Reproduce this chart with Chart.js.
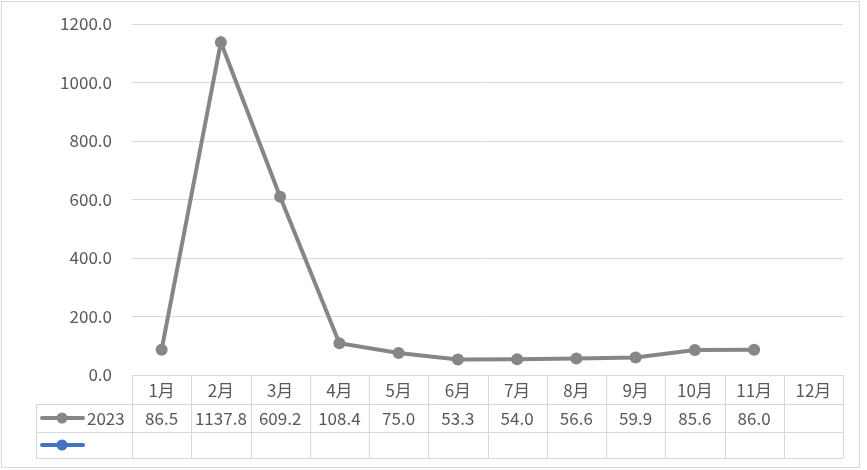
<!DOCTYPE html>
<html>
<head>
<meta charset="utf-8">
<script src="https://cdn.jsdelivr.net/npm/chart.js@4"></script>
<style>
  body { margin: 0; background: #fff; }
  #wrap { width: 867px; height: 470px; position: relative; }
</style>
</head>
<body>
<div id="wrap"><canvas id="myChart"></canvas></div>
<script>
// chart data
const months = ['1月', '2月', '3月', '4月', '5月', '6月', '7月', '8月', '9月', '10月', '11月', '12月'];
const values2023 = [86.5, 1137.8, 609.2, 108.4, 75.0, 53.3, 54.0, 56.6, 59.9, 85.6, 86.0, null];
const seriesName = '2023';
const yTicks = [0, 200, 400, 600, 800, 1000, 1200];

const FONT = '"Noto Sans CJK SC", "Noto Sans", sans-serif';
const FSIZE = 17;
const TEXT = '#595959';
const LINE = '#d9d9d9';

// draws the outer frame and the data table under the plot
const tablePlugin = {
    id: 'dataTable',
    afterDraw(chart) {
        const ctx = chart.ctx;
        const x = chart.scales.x;
        const area = chart.chartArea;
        const colW = (area.right - area.left) / months.length;
        const legendLeft = 36;
        const rowTop = area.bottom;
        const rows = [rowTop, rowTop + 29, rowTop + 57, rowTop + 83];

        ctx.save();
        ctx.strokeStyle = LINE;
        ctx.lineWidth = 1;
        ctx.strokeRect(1.5, 1.5, 858, 466);

        ctx.beginPath();
        // horizontal lines
        ctx.moveTo(area.left, rows[0] + 0.5);
        ctx.lineTo(area.right, rows[0] + 0.5);
        for (let r = 1; r < rows.length; r++) {
            ctx.moveTo(legendLeft, rows[r] + 0.5);
            ctx.lineTo(area.right, rows[r] + 0.5);
        }
        // vertical lines
        for (let i = 0; i <= months.length; i++) {
            const vx = Math.round(area.left + i * colW) + 0.5;
            ctx.moveTo(vx, rows[0]);
            ctx.lineTo(vx, rows[3]);
        }
        ctx.moveTo(legendLeft + 0.5, rows[1]);
        ctx.lineTo(legendLeft + 0.5, rows[3]);
        ctx.stroke();

        // texts
        ctx.fillStyle = TEXT;
        ctx.font = FSIZE + 'px ' + FONT;
        ctx.textAlign = 'center';
        ctx.textBaseline = 'middle';
        months.forEach((m, i) => {
            const cx = x.getPixelForValue(i);
            ctx.fillText(m, cx, (rows[0] + rows[1]) / 2 + 1);
            const v = values2023[i];
            if (v !== null) ctx.fillText(v.toFixed(1), cx, (rows[1] + rows[2]) / 2 + 1);
        });

        // legend keys
        const keys = [{ color: '#868686', y: (rows[1] + rows[2]) / 2, label: seriesName },
                      { color: '#4472c4', y: (rows[2] + rows[3]) / 2, label: '' }];
        keys.forEach(k => {
            ctx.strokeStyle = k.color;
            ctx.fillStyle = k.color;
            ctx.lineWidth = 4;
            ctx.lineCap = 'round';
            ctx.beginPath();
            ctx.moveTo(42, k.y);
            ctx.lineTo(83, k.y);
            ctx.stroke();
            ctx.beginPath();
            ctx.arc(62, k.y, 5.5, 0, Math.PI * 2);
            ctx.fill();
            if (k.label) {
                ctx.fillStyle = TEXT;
                ctx.textAlign = 'left';
                ctx.fillText(k.label, 87, k.y + 1);
            }
        });
        ctx.restore();
    }
};

const ctx = document.getElementById('myChart').getContext('2d');
const myChart = new Chart(ctx, {
    type: 'line',
    data: {
        labels: months,
        datasets: [{
            label: seriesName,
            data: values2023,
            borderColor: '#868686',
            backgroundColor: '#868686',
            borderWidth: 4,
            pointRadius: 6,
            pointHoverRadius: 6,
            pointBackgroundColor: '#868686',
            pointBorderWidth: 0,
            tension: 0,
            fill: false
        }]
    },
    options: {
        responsive: true,
        maintainAspectRatio: false,
        animation: false,
        layout: { padding: { left: 0, right: 24, top: 24, bottom: 95 } },
        plugins: { legend: { display: false }, tooltip: { enabled: false } },
        scales: {
            x: { type: 'category', display: false, offset: true },
            y: {
                min: 0,
                max: 1200,
                afterBuildTicks: s => { s.ticks = yTicks.map(v => ({ value: v })); },
                afterFit: s => { s.width = 132; s.paddingTop = 0; s.paddingBottom = 0; },
                border: { display: false },
                grid: { color: LINE, drawTicks: false, lineWidth: 1 },
                ticks: {
                    padding: 20,
                    color: TEXT,
                    font: { family: FONT, size: FSIZE },
                    callback: v => v.toFixed(1)
                }
            }
        }
    },
    plugins: [tablePlugin]
});
</script>
</body>
</html>
